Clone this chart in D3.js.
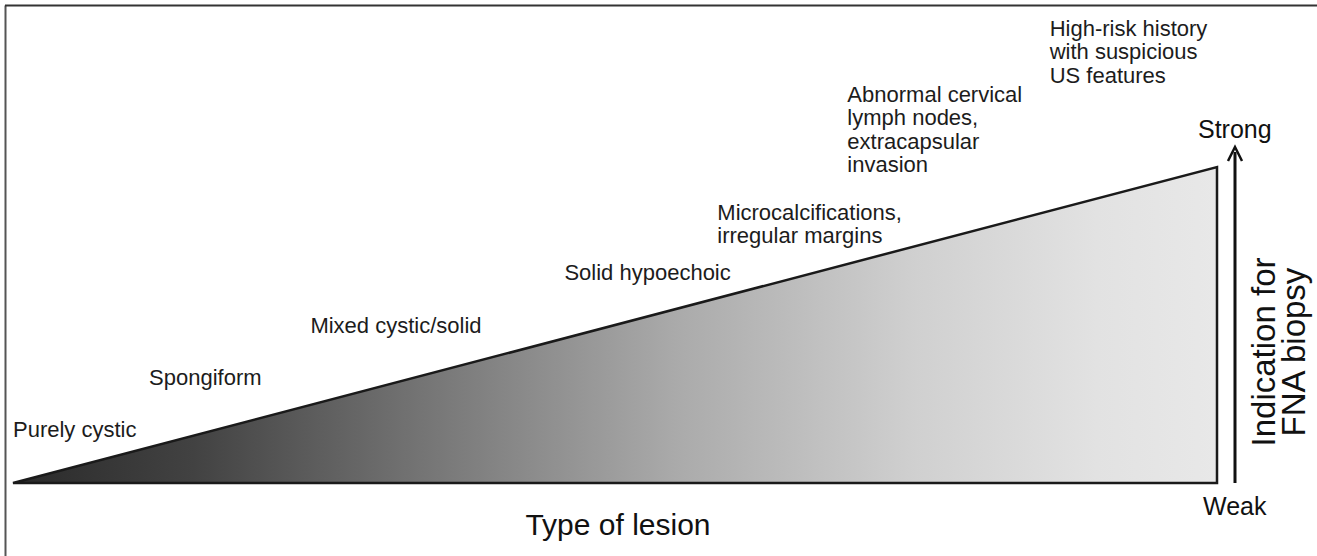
<!DOCTYPE html>
<html>
<head>
<meta charset="utf-8">
<script src="https://cdn.jsdelivr.net/npm/d3@7"></script>
<style>
  body { margin: 0; background: #fff; }
  svg { display: block; font-family: "Liberation Sans", Arial, sans-serif; }
</style>
</head>
<body>
<svg id="chart" width="1317" height="556"></svg>
<script>
// lesion types, from least to most suspicious
const lesionTypes = [
  ["Purely cystic"],
  ["Spongiform"],
  ["Mixed cystic/solid"],
  ["Solid hypoechoic"],
  ["Microcalcifications,", "irregular margins"],
  ["Abnormal cervical", "lymph nodes,", "extracapsular", "invasion"],
  ["High-risk history", "with suspicious", "US features"]
];
// where each label sits on the lesion axis (0-100)
const lesionRank = [0, 11.3, 24.7, 45.8, 58.5, 69.3, 86.1];
// indication level of the label's last line (0 = weak, 100 = strong)
const lesionLevel = [14.6, 31.0, 47.5, 64.2, 75.9, 98.4, 126.6];

const axisEnds = ["Weak", "Strong"];
const xTitle = "Type of lesion";
const yTitle = ["Indication for", "FNA biopsy"];

const svg = d3.select("#chart");
const W = 1317, H = 556;

const x = d3.scaleLinear().domain([0, 100]).range([13, 1217]);
const y = d3.scaleLinear().domain([0, 100]).range([483, 167]);

// frame (only left + top edges are visible)
svg.append("line").attr("x1", 5.5).attr("y1", 5.5).attr("x2", 5.5).attr("y2", H)
  .attr("stroke", "#555").attr("stroke-width", 2);
svg.append("line").attr("x1", 5).attr("y1", 5.5).attr("x2", W).attr("y2", 5.5)
  .attr("stroke", "#333").attr("stroke-width", 2);

// gradient for the wedge
const grad = svg.append("defs").append("linearGradient")
  .attr("id", "wedge").attr("x1", 0).attr("x2", 1).attr("y1", 0).attr("y2", 0);
[[0, "#2a2a2a"], [0.15, "#424242"], [0.35, "#777"], [0.55, "#aaa"],
 [0.75, "#d0d0d0"], [0.9, "#e2e2e2"], [1, "#e8e8e8"]].forEach(s => {
  grad.append("stop").attr("offset", s[0]).attr("stop-color", s[1]);
});

const wedge = [[0, 0], [100, 0], [100, 100]];
svg.append("path")
  .attr("d", d3.line().x(d => x(d[0])).y(d => y(d[1]))(wedge) + "Z")
  .attr("fill", "url(#wedge)")
  .attr("stroke", "#1a1a1a")
  .attr("stroke-width", 2.5)
  .attr("stroke-linejoin", "miter");

// indication arrow
const ax = 1235;
svg.append("line").attr("x1", ax).attr("x2", ax).attr("y1", y(0)).attr("y2", 152)
  .attr("stroke", "#111").attr("stroke-width", 3);
svg.append("path")
  .attr("d", `M${ax - 7},${161} L${ax},${147} L${ax + 7},${161}`)
  .attr("fill", "none").attr("stroke", "#111").attr("stroke-width", 2.5)
  .attr("stroke-linejoin", "miter");

// lesion labels
const lh = 23.5;
const labels = svg.append("g").attr("fill", "#1c1c1c").attr("font-size", 22);
lesionTypes.forEach((lines, i) => {
  const base = y(lesionLevel[i]) - (lines.length - 1) * lh;
  const t = labels.append("text").attr("x", x(lesionRank[i])).attr("y", base);
  lines.forEach((s, j) => {
    t.append("tspan").attr("x", x(lesionRank[i])).attr("dy", j === 0 ? 0 : lh).text(s);
  });
});

// axis ends and titles
svg.append("text").attr("x", 1198).attr("y", 138).attr("font-size", 25)
  .attr("fill", "#111").text(axisEnds[1]);
svg.append("text").attr("x", 1203).attr("y", 515).attr("font-size", 25)
  .attr("fill", "#111").text(axisEnds[0]);
svg.append("text").attr("x", 618).attr("y", 535).attr("font-size", 30)
  .attr("text-anchor", "middle").attr("fill", "#111").text(xTitle);

const yt = svg.append("text")
  .attr("transform", "translate(1275,352) rotate(-90)")
  .attr("font-size", 33).attr("text-anchor", "middle").attr("fill", "#111");
yTitle.forEach((s, j) => {
  yt.append("tspan").attr("x", 0).attr("dy", j === 0 ? 0 : 30).text(s);
});
</script>
</body>
</html>
